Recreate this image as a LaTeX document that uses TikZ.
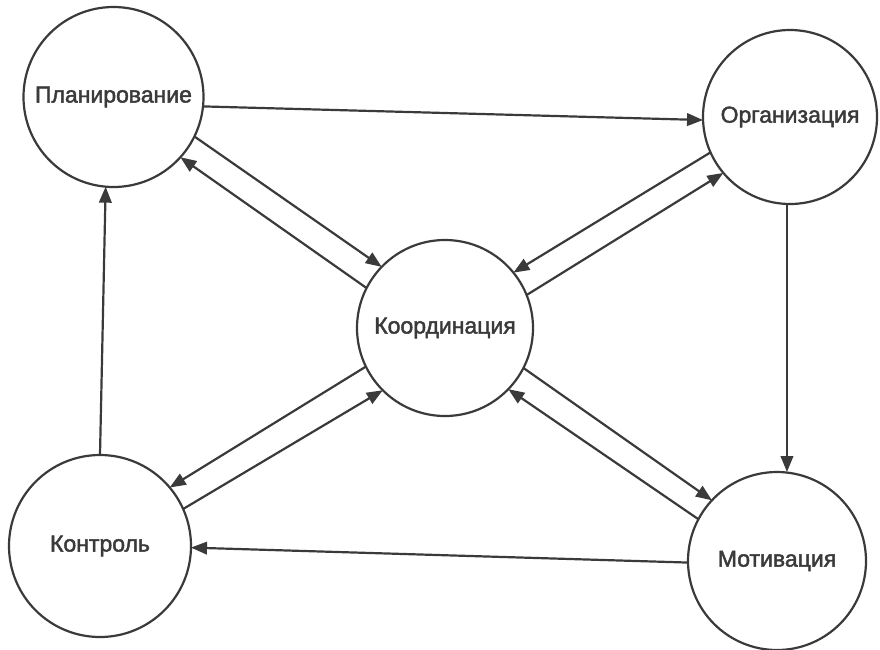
\documentclass[tikz,border=0pt]{standalone}
\usepackage{fontspec}
\setmainfont{Liberation Sans}
\newfontfamily\labelfont[FakeBold=2]{Liberation Sans}
\usetikzlibrary{arrows.meta}
\definecolor{ink}{HTML}{3A3A3A}
\begin{document}
\begin{tikzpicture}[x=1pt,y=-1pt,
  stage/.style={circle,draw=ink,line width=2.2pt,minimum size=#1,inner sep=0pt,outer sep=0pt,
    font=\labelfont\fontsize{23}{26}\selectfont,text=ink},
  link/.style={draw=ink,line width=2.2pt,-{Triangle[length=16pt,width=12.5pt]}}]
\useasboundingbox (0,0) rectangle (880,649);
\node[stage=180pt] (plan) at (113.5,97) {\raisebox{-5pt}{Планирование}};
\node[stage=174pt] (org) at (790,117) {Организация};
\node[stage=176pt] (coord) at (445,328) {Координация};
\node[stage=182pt] (ctrl) at (100,546) {Контроль};
\node[stage=178pt] (motiv) at (777,561) {Мотивация};
% outer cycle
\draw[link] (plan.-6) -- (org.-178);
\draw[link] (org.-92.5) -- (org.-92.5 |- motiv.north);
\draw[link] (motiv.181.5) -- (ctrl.-1);
\draw[link] (ctrl.90) -- (plan.-95);
% coordination pairs
\draw[link] (plan.-26) -- (coord.136);
\draw[link] (coord.153) -- (plan.-42);
\draw[link] (org.-156) -- (coord.39);
\draw[link] (coord.22) -- (org.-140);
\draw[link] (coord.-154) -- (ctrl.40);
\draw[link] (ctrl.24) -- (coord.-135);
\draw[link] (coord.-27) -- (motiv.137);
\draw[link] (motiv.152) -- (coord.-44);
\end{tikzpicture}
\end{document}
